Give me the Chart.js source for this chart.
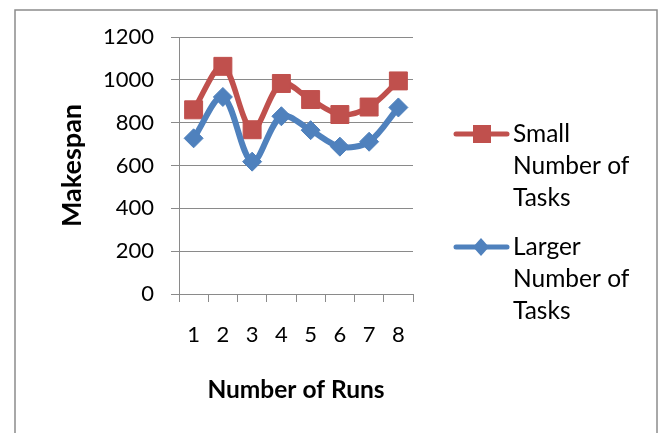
<!DOCTYPE html>
<html>
<head>
<meta charset="utf-8">
<script src="https://cdn.jsdelivr.net/npm/chart.js@4/dist/chart.umd.min.js"></script>
<style>
  html, body { margin: 0; padding: 0; background: #fff; }
  #wrap { width: 660px; height: 433px; position: relative; }
  canvas { display: block; }
</style>
</head>
<body>
<div id="wrap"><canvas id="chart" width="660" height="433"></canvas></div>
<script>
// Run numbers along the x axis
const runs = ['1', '2', '3', '4', '5', '6', '7', '8'];
// Makespan for each run
const smallTasks = [860, 1063, 767, 983, 908, 838, 873, 995];
const largerTasks = [727, 920, 618, 830, 765, 688, 711, 871];
const seriesNames = ['Small Number of Tasks', 'Larger Number of Tasks'];
// Value axis ticks
const yTicks = [0, 200, 400, 600, 800, 1000, 1200];

const RED = '#C0504D';
const BLUE = '#4F81BD';
const GRID = '#8a8a8a';
const FONT = 'Lato';

// Frame around the whole chart
const frame = {
  id: 'frame',
  beforeDraw(chart) {
    const ctx = chart.ctx;
    ctx.save();
    ctx.fillStyle = '#fff';
    ctx.fillRect(0, 0, chart.width, chart.height);
    ctx.strokeStyle = '#8c8c8c';
    ctx.lineWidth = 1.5;
    ctx.strokeRect(15, 10, 642, 440);
    ctx.restore();
  }
};

function wrapText(ctx, text, maxWidth) {
  const words = text.split(' ');
  const lines = [];
  let line = '';
  words.forEach(w => {
    const test = line ? line + ' ' + w : w;
    if (line && ctx.measureText(test).width > maxWidth) {
      lines.push(line);
      line = w;
    } else {
      line = test;
    }
  });
  if (line) lines.push(line);
  return lines;
}

// Legend on the right with wrapped series names
const sideLegend = {
  id: 'sideLegend',
  afterDraw(chart) {
    const ctx = chart.ctx;
    ctx.save();
    ctx.font = '24.5px ' + FONT;
    ctx.textBaseline = 'middle';
    const lineH = 32;
    let y = 134;
    chart.data.datasets.forEach(ds => {
      const color = ds.borderColor;
      // sample line
      ctx.strokeStyle = color;
      ctx.lineWidth = 5;
      ctx.lineCap = 'round';
      ctx.beginPath();
      ctx.moveTo(456, y);
      ctx.lineTo(507, y);
      ctx.stroke();
      // sample marker
      ctx.fillStyle = color;
      ctx.beginPath();
      if (ds.pointStyle === 'rect') {
        ctx.rect(473, y - 9, 18, 18);
      } else {
        ctx.moveTo(481, y - 9);
        ctx.lineTo(489, y);
        ctx.lineTo(481, y + 9);
        ctx.lineTo(473, y);
        ctx.closePath();
      }
      ctx.fill();
      // label
      ctx.fillStyle = '#000';
      const lines = wrapText(ctx, ds.label, 140);
      lines.forEach((ln, i) => ctx.fillText(ln, 513, y + i * lineH));
      y += lines.length * lineH + 17;
    });
    ctx.restore();
  }
};

new Chart(document.getElementById('chart'), {
  type: 'line',
  data: {
    labels: runs,
    datasets: [
      {
        label: seriesNames[0],
        data: smallTasks,
        borderColor: RED,
        backgroundColor: RED,
        pointBackgroundColor: RED,
        pointBorderColor: RED,
        borderWidth: 5.5,
        pointStyle: 'rect',
        pointRadius: 12.7,
        pointBorderWidth: 1,
        tension: 0.33,
        order: 1
      },
      {
        label: seriesNames[1],
        data: largerTasks,
        borderColor: BLUE,
        backgroundColor: BLUE,
        pointBackgroundColor: BLUE,
        pointBorderColor: BLUE,
        borderWidth: 6,
        pointStyle: 'rectRot',
        pointRadius: 9.5,
        pointBorderWidth: 1,
        tension: 0.33,
        order: 0
      }
    ]
  },
  options: {
    responsive: false,
    animation: false,
    layout: { padding: { left: 0, right: 247, top: 37, bottom: 0 } },
    plugins: {
      legend: { display: false },
      tooltip: { enabled: false }
    },
    scales: {
      x: {
        offset: true,
        grid: {
          offset: true,
          drawOnChartArea: false,
          drawTicks: true,
          tickLength: 8,
          color: GRID,
          lineWidth: 1
        },
        border: { color: GRID, width: 1 },
        ticks: {
          color: '#000',
          font: { family: FONT, size: 22 },
          padding: 20,
          maxRotation: 0
        },
        title: {
          display: true,
          text: 'Number of Runs',
          color: '#000',
          font: { family: FONT, size: 24.5, weight: 'bold' },
          padding: { top: 0, bottom: 28 }
        },
        afterFit(scale) { scale.height = 139; }
      },
      y: {
        min: yTicks[0],
        max: yTicks[yTicks.length - 1],
        grid: {
          color: GRID,
          lineWidth: 1,
          drawTicks: true,
          tickLength: 8
        },
        border: { color: GRID, width: 1 },
        ticks: {
          stepSize: yTicks[1] - yTicks[0],
          color: '#000',
          font: { family: FONT, size: 22 },
          padding: 17,
          callback: v => String(v)
        },
        title: {
          display: true,
          text: 'Makespan',
          color: '#000',
          font: { family: FONT, size: 27, weight: 'bold' },
          padding: { top: 56, bottom: 0 }
        },
        afterFit(scale) { scale.width = 179; }
      }
    }
  },
  plugins: [frame, sideLegend]
});
</script>
</body>
</html>
